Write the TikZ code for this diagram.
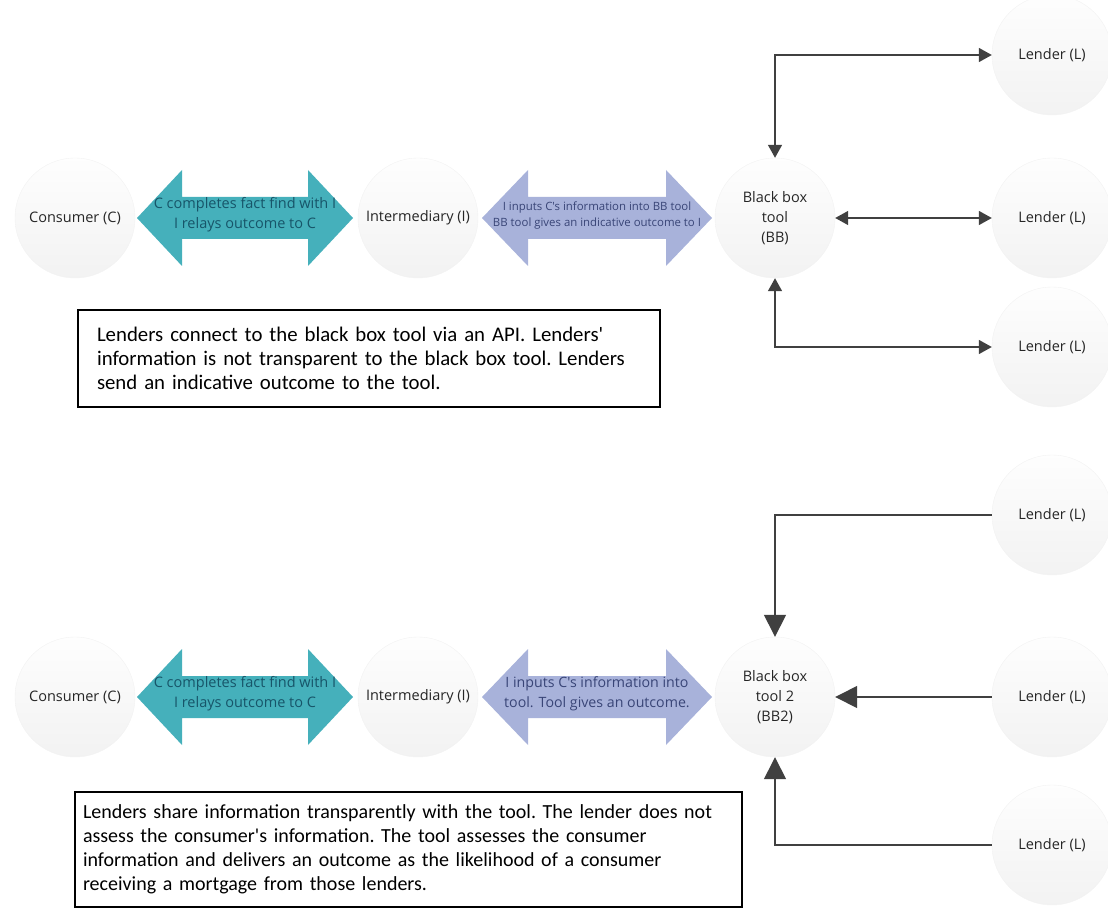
\documentclass[tikz,border=0pt]{standalone}
\usepackage{fontspec}
\setmainfont{Carlito}
\newfontfamily\labelfont{Open Sans}
\usetikzlibrary{positioning,arrows.meta}

\definecolor{tealfill}{HTML}{45B0BB}
\definecolor{tealtext}{HTML}{175569}
\definecolor{bluefill}{HTML}{A8B2DA}
\definecolor{bluetext}{HTML}{394577}
\definecolor{linegray}{HTML}{404040}

\begin{document}
\begin{tikzpicture}[x=1pt,y=-1pt,
  party/.style={circle, minimum size=120pt, inner sep=0pt, top color=gray!1, bottom color=gray!10,
    draw=gray!10, text=black!85, align=center, font=\labelfont\fontsize{14.5}{20}\selectfont},
  teallabel/.style={text=tealtext, align=center, inner sep=0pt, font=\labelfont\fontsize{14.5}{20}\selectfont},
  bluelabel/.style={text=bluetext, align=center, inner sep=0pt, font=\labelfont\fontsize{14.2}{20}\selectfont},
  link/.style={draw=linegray, line width=1.5pt},
  smalltip/.style={{Triangle[length=13pt,width=14pt]}-{Triangle[length=13pt,width=14pt]}},
  bigtip/.style={-{Triangle[length=22pt,width=22pt]}},
  note/.style={draw, line width=1.3pt, align=left, font=\fontsize{20}{24}\selectfont\frenchspacing}]
\path[use as bounding box] (0,0) rectangle (1108,909);

% upper scheme: black box tool
\node[party] (cons1) at (75,218) {Consumer (C)};
\node[party] (int1) at (418,218) {Intermediary (I)};
\node[party] (bb1) at (775,218) {Black box\\tool\\(BB)};
\node[party] (lenA1) at (1052,55) {Lender (L)};
\node[party] (lenB1) at (1052,218) {Lender (L)};
\node[party] (lenC1) at (1052,347) {Lender (L)};

\fill[tealfill] (137,218) -- (182,170) -- (182,197) -- (308,197) -- (308,170) -- (353,218)
  -- (308,266) -- (308,239) -- (182,239) -- (182,266) -- cycle;
\node[teallabel] (fact1) at (245,215) {C completes fact find with I\\I relays outcome to C};
\fill[bluefill] (482,218) -- (528,170) -- (528,197) -- (666,197) -- (666,170) -- (712,218)
  -- (666,266) -- (666,239) -- (528,239) -- (528,266) -- cycle;
\node[bluelabel, font=\labelfont\fontsize{11.4}{16}\selectfont] (input1) at (597,216)
  {I inputs C's information into BB tool\\BB tool gives an indicative outcome to I};

\draw[link, smalltip] (bb1.north) |- (lenA1.west);
\draw[link, smalltip] (bb1.east) -- (lenB1.west);
\draw[link, smalltip] (bb1.south) |- (lenC1.west);

\node[note, minimum width=582pt, minimum height=97pt, text width=544pt,
  font=\fontsize{20.8}{24}\selectfont\frenchspacing] (note1) at (369,358.5)
  {Lenders connect to the black box tool via an API. Lenders\textquotesingle\\
   information is not transparent to the black box tool. Lenders\\
   send an indicative outcome to the tool.};

% lower scheme: black box tool 2
\node[party] (cons2) at (75,697) {Consumer (C)};
\node[party] (int2) at (418,697) {Intermediary (I)};
\node[party] (bb2) at (775,697) {Black box\\tool 2\\(BB2)};
\node[party] (lenA2) at (1052,515) {Lender (L)};
\node[party] (lenB2) at (1052,697) {Lender (L)};
\node[party] (lenC2) at (1052,845) {Lender (L)};

\fill[tealfill] (137,697) -- (182,649) -- (182,676) -- (308,676) -- (308,649) -- (353,697)
  -- (308,745) -- (308,718) -- (182,718) -- (182,745) -- cycle;
\node[teallabel] (fact2) at (245,694) {C completes fact find with I\\I relays outcome to C};
\fill[bluefill] (482,697) -- (528,649) -- (528,676) -- (666,676) -- (666,649) -- (712,697)
  -- (666,745) -- (666,718) -- (528,718) -- (528,745) -- cycle;
\node[bluelabel] (input2) at (597,694) {I inputs C's information into\\tool. Tool gives an outcome.};

\draw[link, bigtip] (lenA2.west) -| (bb2.north);
\draw[link, bigtip] (lenB2.west) -- (bb2.east);
\draw[link, bigtip] (lenC2.west) -| (bb2.south);

\node[note, minimum width=667pt, minimum height=115pt, text width=651pt] (note2) at (408.5,849.5)
  {Lenders share information transparently with the tool. The lender does not\\
   assess the consumer\textquotesingle s information. The tool assesses the consumer\\
   information and delivers an outcome as the likelihood of a consumer\\
   receiving a mortgage from those lenders.};
\end{tikzpicture}
\end{document}
